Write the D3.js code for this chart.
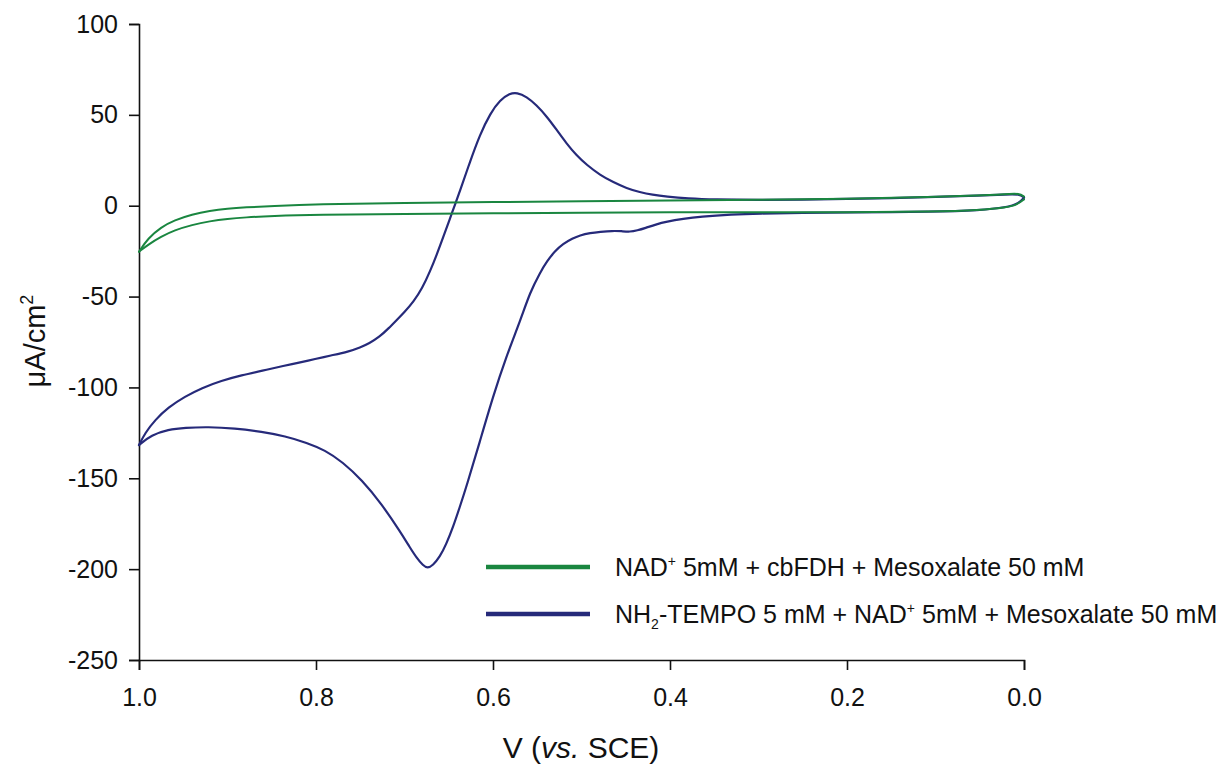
<!DOCTYPE html>
<html><head><meta charset="utf-8">
<script src="https://cdn.jsdelivr.net/npm/d3@7/dist/d3.min.js"></script>
<style>
body{margin:0;background:#fff;}
text{font-family:"Liberation Sans",Arial,sans-serif;fill:#111;}
</style></head>
<body><svg id="c" width="1225" height="767"></svg>
<script>
// Potential V (vs. SCE), current density µA/cm²
const xTicks = [1.0, 0.8, 0.6, 0.4, 0.2, 0.0];
const yTicks = [100, 50, 0, -50, -100, -150, -200, -250];

// NH2-TEMPO + NAD+ + Mesoxalate (blue) – upper branch, V from 0 to 1
const blueUpper = [[0,4.5],[0.005,6.4],[0.02,6.2],[0.05,5.5],[0.1,4.8],[0.15,4.2],[0.2,3.7],[0.25,3.3],[0.3,3.1],[0.35,3.4],[0.38,4.0],[0.404,5.0],[0.42,6.0],[0.434,7.4],[0.449,9.6],[0.464,12.9],[0.479,16.9],[0.494,22.4],[0.506,27.9],[0.517,34.3],[0.528,41.7],[0.539,49.0],[0.551,55.4],[0.562,60.0],[0.573,62.3],[0.581,61.8],[0.592,58.2],[0.603,50.9],[0.615,38.9],[0.626,24.2],[0.637,8.6],[0.646,-3.5],[0.656,-17.0],[0.664,-27.5],[0.671,-36.0],[0.68,-45.5],[0.69,-53.0],[0.70,-58.5],[0.709,-63.0],[0.718,-67.5],[0.728,-72.1],[0.74,-75.8],[0.75,-78.0],[0.763,-80.3],[0.784,-82.5],[0.8,-84.3],[0.822,-86.6],[0.835,-88.0],[0.861,-90.8],[0.884,-93.3],[0.907,-96.3],[0.929,-100.3],[0.948,-105.0],[0.967,-111.0],[0.982,-118.0],[0.993,-125.0],[1.0,-131.7]];
// blue – lower branch, V from 1 back to 0
const blueLower = [[1.0,-131.7],[0.986,-126.2],[0.967,-123.2],[0.948,-122.2],[0.922,-121.7],[0.892,-122.5],[0.861,-124.4],[0.835,-126.8],[0.81,-130.5],[0.79,-134.5],[0.77,-141.0],[0.748,-151.0],[0.726,-164.0],[0.704,-180.0],[0.694,-188.0],[0.686,-194.0],[0.679,-198.0],[0.674,-199.5],[0.668,-198.0],[0.66,-193.2],[0.653,-186.5],[0.645,-176.7],[0.638,-166.5],[0.630,-154.6],[0.615,-130.0],[0.600,-105.0],[0.585,-83.0],[0.569,-63.0],[0.558,-47.5],[0.547,-37.0],[0.539,-30.5],[0.53,-25.0],[0.521,-21.0],[0.51,-18.0],[0.502,-16.3],[0.49,-15.0],[0.479,-14.4],[0.465,-13.8],[0.455,-14.0],[0.445,-14.4],[0.437,-13.6],[0.428,-12.3],[0.416,-10.3],[0.404,-8.8],[0.385,-7.2],[0.366,-6.0],[0.33,-4.8],[0.3,-4.3],[0.25,-3.9],[0.2,-3.7],[0.1,-3.4],[0.05,-2.5],[0.02,-1.0],[0.005,1.5],[0,4.5]];

// NAD+ + cbFDH + Mesoxalate (green)
const greenUpper = [[0,5.0],[0.005,6.8],[0.02,6.4],[0.05,5.6],[0.1,4.8],[0.2,3.8],[0.3,3.2],[0.4,2.8],[0.5,2.5],[0.6,2.0],[0.7,1.5],[0.8,0.8],[0.85,-0.2],[0.88,-0.9],[0.9,-1.6],[0.92,-2.8],[0.94,-4.8],[0.96,-8.0],[0.975,-11.8],[0.99,-18.0],[1.0,-25.3]];
const greenLower = [[1.0,-25.3],[0.99,-21.5],[0.975,-17.0],[0.96,-13.5],[0.94,-10.5],[0.92,-8.5],[0.9,-7.2],[0.88,-6.4],[0.85,-5.7],[0.8,-5.0],[0.7,-4.5],[0.6,-4.2],[0.5,-3.9],[0.4,-3.6],[0.3,-3.6],[0.2,-3.6],[0.1,-3.2],[0.05,-2.4],[0.02,-1.0],[0.008,0.5],[0,3.5]];

const seriesNames = ["NAD+ 5mM + cbFDH + Mesoxalate 50 mM", "NH2-TEMPO 5 mM + NAD+ 5mM + Mesoxalate 50 mM"];
const seriesColors = ["#1a8640", "#262a7a"];

const svg = d3.select("#c");
const mLeft = 139, mRight = 1024, mTop = 24, mBottom = 660;
const x = d3.scaleLinear().domain([1.0, 0.0]).range([mLeft, mRight]);
const y = d3.scaleLinear().domain([-250, 100]).range([mBottom, mTop]);

const xAxis = svg.append("g").attr("transform", `translate(0,${mBottom})`)
  .call(d3.axisBottom(x).tickValues(xTicks).tickFormat(d3.format(".1f")).tickSizeOuter(0).tickSize(10).tickPadding(18));
const yAxis = svg.append("g").attr("transform", `translate(${mLeft},0)`)
  .call(d3.axisLeft(y).tickValues(yTicks).tickFormat(d => String(d)).tickSizeOuter(0).tickSize(10).tickPadding(11));
[xAxis, yAxis].forEach(a => {
  a.attr("font-size", null).attr("font-family", null);
  a.select(".domain").attr("stroke", "#111").attr("stroke-width", 1.6);
  a.selectAll(".tick line").attr("stroke", "#111").attr("stroke-width", 1.6);
  a.selectAll(".tick text").style("font-size", "25px").style("font-family", '"Liberation Sans",Arial,sans-serif').attr("fill", "#111");
});
xAxis.selectAll(".tick text").attr("dy", "0.71em");

const line = d3.line().x(d => x(d[0])).y(d => y(d[1])).curve(d3.curveBasis);
const g = svg.append("g");
const branches = [
  {data: blueUpper, color: seriesColors[1], w: 2.2},
  {data: blueLower, color: seriesColors[1], w: 2.2},
  {data: greenUpper, color: seriesColors[0], w: 2},
  {data: greenLower, color: seriesColors[0], w: 2}
];
g.selectAll("path").data(branches).join("path")
  .attr("d", d => line(d.data)).attr("fill", "none")
  .attr("stroke", d => d.color).attr("stroke-width", d => d.w)
  .attr("stroke-linejoin", "round").attr("stroke-linecap", "round");

// axis titles
const xt = svg.append("text").attr("x", 581).attr("y", 758).attr("text-anchor", "middle").style("font-size", "30px");
xt.append("tspan").text("V (");
xt.append("tspan").attr("font-style", "italic").text("vs.");
xt.append("tspan").text(" SCE)");

const yt = svg.append("text").attr("transform", "translate(45,341) rotate(-90)").attr("text-anchor", "middle").style("font-size", "29px");
yt.append("tspan").text("\u03bcA/cm");
yt.append("tspan").style("font-size", "18px").attr("dy", -12).text("2");

// legend
const lg = svg.append("g");
const legY = [567, 614];
lg.selectAll("line").data(seriesColors).join("line")
  .attr("x1", 486).attr("x2", 590).attr("y1", (d, i) => legY[i]).attr("y2", (d, i) => legY[i])
  .attr("stroke", d => d).attr("stroke-width", 4.5);
const t1 = lg.append("text").attr("x", 615).attr("y", legY[0] + 9).style("font-size", "25px");
t1.append("tspan").text("NAD");
t1.append("tspan").style("font-size", "14px").attr("dy", -10).text("+");
t1.append("tspan").attr("dy", 10).text(" 5mM + cbFDH + Mesoxalate 50 mM");
const t2 = lg.append("text").attr("x", 615).attr("y", legY[1] + 9).style("font-size", "25px");
t2.append("tspan").text("NH");
t2.append("tspan").style("font-size", "14px").attr("dy", 6).text("2");
t2.append("tspan").attr("dy", -6).text("-TEMPO 5 mM + NAD");
t2.append("tspan").style("font-size", "14px").attr("dy", -10).text("+");
t2.append("tspan").attr("dy", 10).text(" 5mM + Mesoxalate 50 mM");
</script></body></html>
